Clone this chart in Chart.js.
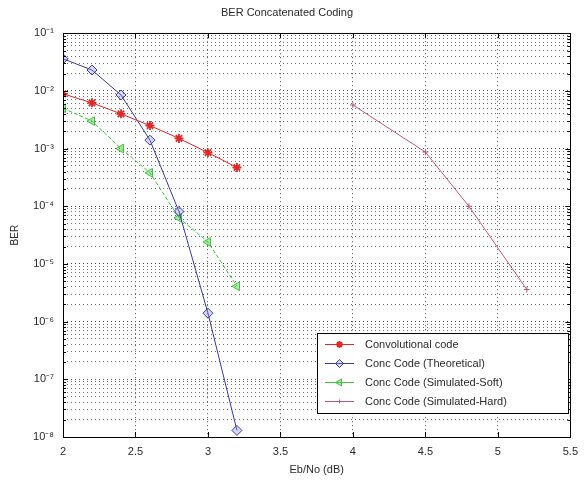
<!DOCTYPE html>
<html>
<head>
<meta charset="utf-8">
<script src="https://cdn.jsdelivr.net/npm/chart.js@4/dist/chart.umd.min.js"></script>
<style>
  html, body { margin: 0; padding: 0; background: #fff; }
  #c { display: block; }
</style>
</head>
<body>
<canvas id="c" width="586" height="481"></canvas>
<script>
// ---- data ----
const ebnoLow = [2.0, 2.2, 2.4, 2.6, 2.8, 3.0, 3.2];
const berConv = [8.9e-3, 6.2e-3, 4.0e-3, 2.5e-3, 1.5e-3, 8.5e-4, 4.7e-4];
const berTheory = [3.6e-2, 2.3e-2, 8.5e-3, 1.4e-3, 8.1e-5, 1.4e-6, 1.3e-8];
const berSoft = [5.0e-3, 3.0e-3, 1.0e-3, 3.8e-4, 6.3e-5, 2.4e-5, 4.1e-6];
const ebnoHard = [4.0, 4.5, 4.8, 5.2];
const berHard = [5.7e-3, 8.7e-4, 1.0e-4, 3.6e-6];

const seriesNames = ['Convolutional code', 'Conc Code (Theoretical)', 'Conc Code (Simulated-Soft)', 'Conc Code (Simulated-Hard)'];
const xTickValues = [2, 2.5, 3, 3.5, 4, 4.5, 5, 5.5];
const xTickLabels = ['2', '2.5', '3', '3.5', '4', '4.5', '5', '5.5'];
const yDecades = [1e-8, 1e-7, 1e-6, 1e-5, 1e-4, 1e-3, 1e-2, 1e-1];
const yTickLabels = ['10\u207B\u2078', '10\u207B\u2077', '10\u207B\u2076', '10\u207B\u2075', '10\u207B\u2074', '10\u207B\u00B3', '10\u207B\u00B2', '10\u207B\u00B9'];
const minorMultipliers = [2, 3, 4, 5, 6, 7, 8, 9];

const pts = (xs, ys) => xs.map((x, i) => ({x: x, y: ys[i]}));
const FONT = "'Liberation Sans', Arial, sans-serif";
const TXT = '#2a2a2a';

function isDecade(v) {
  const l = Math.log10(v);
  return Math.abs(l - Math.round(l)) < 1e-6;
}

const frameAndLegend = {
  id: 'frameAndLegend',
  afterDatasetsDraw(chart) {
    const ctx = chart.ctx;
    const a = chart.chartArea;
    const xs = chart.scales.x, ys = chart.scales.y;
    ctx.save();
    // ticks inside the box
    ctx.strokeStyle = '#000';
    ctx.lineWidth = 1;
    ctx.beginPath();
    xTickValues.forEach(v => {
      const px = Math.round(xs.getPixelForValue(v)) + 0.5;
      ctx.moveTo(px, a.bottom); ctx.lineTo(px, a.bottom - 5);
      ctx.moveTo(px, a.top); ctx.lineTo(px, a.top + 5);
    });
    yDecades.forEach(d => {
      const py = Math.round(ys.getPixelForValue(d)) + 0.5;
      ctx.moveTo(a.left, py); ctx.lineTo(a.left + 5, py);
      ctx.moveTo(a.right, py); ctx.lineTo(a.right - 5, py);
      if (d < 1e-1) {
        minorMultipliers.forEach(m => {
          const pm = Math.round(ys.getPixelForValue(d * m)) + 0.5;
          ctx.moveTo(a.left, pm); ctx.lineTo(a.left + 3, pm);
          ctx.moveTo(a.right, pm); ctx.lineTo(a.right - 3, pm);
        });
      }
    });
    ctx.stroke();
    // frame
    ctx.strokeRect(Math.round(a.left) + 0.5, Math.round(a.top) + 0.5, Math.round(a.right - a.left), Math.round(a.bottom - a.top));

    // legend
    const lx = 317, ly = 333, lw = 251, lh = 80;
    ctx.fillStyle = '#fff';
    ctx.fillRect(lx, ly, lw, lh);
    ctx.strokeStyle = '#000';
    ctx.strokeRect(lx + 0.5, ly + 0.5, lw, lh);
    const rows = [344, 363, 382, 401];
    chart.data.datasets.forEach((ds, i) => {
      const y = rows[i];
      ctx.strokeStyle = ds.borderColor;
      ctx.lineWidth = ds.borderWidth;
      ctx.beginPath();
      ctx.moveTo(325, y + 0.5); ctx.lineTo(354, y + 0.5);
      ctx.stroke();
      ctx.fillStyle = ds.pointBackgroundColor;
      ctx.strokeStyle = ds.borderColor;
      ctx.lineWidth = ds.pointBorderWidth;
      Chart.helpers.drawPoint(ctx, {
        pointStyle: ds.pointStyle, radius: ds.pointRadius - 1,
        rotation: ds.pointRotation || 0, borderWidth: ds.pointBorderWidth
      }, 339.5, y + 0.5);
      ctx.fillStyle = TXT;
      ctx.font = '11px ' + FONT;
      ctx.textBaseline = 'middle';
      ctx.textAlign = 'left';
      ctx.fillText(ds.label, 365, y + 1);
    });
    ctx.restore();
  }
};

new Chart(document.getElementById('c'), {
  type: 'line',
  data: {
    datasets: [
      {
        label: seriesNames[0], data: pts(ebnoLow, berConv),
        borderColor: '#e02828', borderWidth: 1,
        pointStyle: 'star', pointRadius: 4.5, pointBorderWidth: 1.8,
        pointBackgroundColor: '#e02828', pointBorderColor: '#e02828'
      },
      {
        label: seriesNames[1], data: pts(ebnoLow, berTheory),
        borderColor: '#3a3aa0', borderWidth: 1,
        pointStyle: 'rectRot', pointRadius: 5, pointBorderWidth: 1,
        pointBackgroundColor: 'rgba(140,140,230,0.35)', pointBorderColor: '#3a3aa0'
      },
      {
        label: seriesNames[2], data: pts(ebnoLow, berSoft),
        borderColor: '#3cc23c', borderWidth: 1, borderDash: [4, 2],
        pointStyle: 'triangle', pointRotation: -90, pointRadius: 5, pointBorderWidth: 1,
        pointBackgroundColor: 'rgba(70,210,70,0.45)', pointBorderColor: '#3cc23c'
      },
      {
        label: seriesNames[3], data: pts(ebnoHard, berHard),
        borderColor: '#b85a78', borderWidth: 1,
        pointStyle: 'cross', pointRadius: 3, pointBorderWidth: 1,
        pointBackgroundColor: '#b85a78', pointBorderColor: '#b85a78'
      }
    ]
  },
  options: {
    responsive: false,
    devicePixelRatio: 1,
    animation: false,
    layout: { padding: { left: 0, right: 12, top: 0, bottom: 0 } },
    elements: { line: { tension: 0 } },
    plugins: {
      legend: { display: false },
      tooltip: { enabled: false },
      title: {
        display: true, text: 'BER Concatenated Coding', color: TXT,
        font: { family: FONT, size: 11, weight: 'normal' },
        padding: { top: 6, bottom: 14 }
      }
    },
    scales: {
      x: {
        type: 'linear', min: 2, max: 5.5,
        afterBuildTicks: s => { s.ticks = xTickValues.map(v => ({value: v})); },
        afterFit: s => { s.height = 44; },
        ticks: {
          color: TXT, font: { family: FONT, size: 11 }, padding: 8,
          callback: v => { const i = xTickValues.indexOf(v); return i >= 0 ? xTickLabels[i] : ''; }
        },
        grid: { color: '#555', lineWidth: 1, drawTicks: false },
        border: { display: false, dash: [1, 3] },
        title: {
          display: true, text: 'Eb/No (dB)', color: TXT,
          font: { family: FONT, size: 11 }, padding: { top: 0, bottom: 4 }
        }
      },
      y: {
        type: 'logarithmic', min: 1e-8, max: 1e-1,
        afterBuildTicks: s => {
          const t = [];
          yDecades.forEach(d => {
            t.push({value: d});
            if (d < 1e-1) minorMultipliers.forEach(m => t.push({value: d * m}));
          });
          s.ticks = t;
        },
        afterFit: s => { s.width = 63; },
        ticks: {
          color: TXT, font: { family: FONT, size: 11 }, padding: 9,
          autoSkip: false,
          callback: v => {
            if (!isDecade(v)) return '';
            const i = yDecades.findIndex(d => Math.abs(Math.log10(d) - Math.log10(v)) < 1e-6);
            return i >= 0 ? yTickLabels[i] : '';
          }
        },
        grid: {
          color: c => (c.tick && isDecade(c.tick.value)) ? '#4a4a4a' : '#6e6e6e',
          lineWidth: 1, drawTicks: false
        },
        border: { display: false, dash: [1, 3] },
        title: {
          display: true, text: 'BER', color: TXT,
          font: { family: FONT, size: 10 }, padding: { top: 9, bottom: 0 }
        }
      }
    }
  },
  plugins: [frameAndLegend]
});
</script>
</body>
</html>
